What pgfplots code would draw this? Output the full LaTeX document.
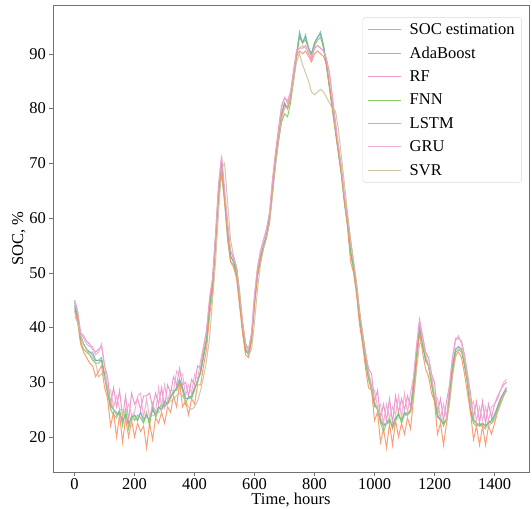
\documentclass[border=0pt]{standalone}
\usepackage{pgfplots}
\usepackage{pgfplotstable}
\pgfplotsset{compat=1.18}
\usepackage{fontspec}
\setmainfont{Liberation Serif}
\definecolor{csoc}{RGB}{102,194,165}
\definecolor{cada}{RGB}{141,160,203}
\definecolor{crf}{RGB}{231,138,195}
\definecolor{cfnn}{RGB}{120,200,80}
\definecolor{clstm}{RGB}{252,141,98}
\definecolor{cgru}{RGB}{240,165,210}
\definecolor{csvr}{RGB}{200,190,150}
\pgfplotstableread{
t soc ada rf fnn lstm gru svr
0 44 44.5 45 43.5 43 45 42
10 42 42 43 41.5 41 43 41
20 38 38.5 39 37.5 37 39 38.5
30 37 37 38.5 36 35.5 38 37
40 36 36 37.5 35.5 34.5 37 36
50 35.5 35.5 37 35 33.5 36.5 35
60 35 35.5 36 34 33 36.5 34.5
70 34 34 35.5 33.5 31 35 33.5
80 34 34 36 33.5 32 35.5 31
90 34.5 34 36.5 34 33 37 31.5
100 31 31.5 33 31 29 33 31
110 28 28 31 28.5 27 29 29
120 25.5 26 26 25 22 28.5 26.5
130 25 25 29 24 24.5 25.5 25
140 24 24.5 25.5 23.5 20 27.5 24
150 24.5 24 28.5 25 24 25 24
160 23 23 23.5 22 19 25 23.5
170 24 24 27.5 25 23.5 24.5 23.5
180 22.5 22.5 23 21.5 20 26 23
190 23.5 23.5 28 24 23 24 23
200 24 24 26 23 20 24.5 23.5
210 23 23 27 24 22.5 27.5 23.5
220 24.5 24.5 25 23.5 21 28 23.5
230 23 23 27.5 22.5 22 23.5 23.5
240 24 24 27.5 24.5 18 27 23.5
250 23 23 28 22 22.5 23.5 23.5
260 25 25 25.5 26 19.5 26 24
270 24 24 28 23.5 23.5 24.5 24
280 25.5 25.5 26 25 22.5 29 24.5
290 25 25 29 26 24.5 25.5 25
300 26.5 26.5 25.5 25.5 22.5 29.5 25.5
310 26 26 29.5 26.5 25.5 26.5 26
320 27.5 27.5 28 27 24.5 28.5 26.5
330 28 28 31 28.5 27.5 28.5 27
340 29 29 29.5 28.5 25.5 32 27.5
350 30.5 30.5 32.5 30 30 31 28
360 29 29 29.5 28.5 25.5 31.5 27.5
370 27 27 30 26 26.5 27.5 26.5
380 27 27 27.5 27.5 24 29.5 25.5
390 27.5 27.5 30.5 27 27 28 25
400 29 29 29.5 28.5 26 31.5 25.5
410 30 30 33 30.5 29.5 30.5 26.5
420 32 32 32.5 31.5 29.5 34 28.5
430 35 35 36.5 34.5 33 36.5 31
440 38 38 39.5 37.5 36 39.5 34
450 44 44 45 43.5 42 45.5 38
460 48 48 49 47.5 46.5 49 45
470 56 56 57 55.5 55 57 52
480 65 65 66 64 64 66 61
490 70 70 71 68 69 71.5 69
500 64 64 65 63 63 65 70
510 58 58 59 56 57 59 63
520 53 53 54 52 52 54 56
530 52 52 52.5 51.5 51 53 53
540 50 50 51 49.5 49 51 51
550 45 45 46 44.5 44 46 47
560 40 40 41 39.5 39 41 41
570 36 36 37 35.5 35 37 37
580 35 35 36 35.5 34.5 36 35
590 38 38 39 38 37.5 39 36
600 45 45 46 44.5 44 46 41
610 50 50 51 49.5 49.5 51 47
620 53 53 54 52.5 52.5 54 51.5
630 55 55 56 54.5 54.5 56 54.5
640 57 57 58 56.5 56.5 58 56.5
650 60 60 61 59.5 59.5 61 59
660 66 66 67 65 65 67 64
670 71 71 72 70 70.5 72 69.5
680 75 75 76.5 74 74.5 76 74
690 79 79 80.5 77.5 78.5 80 78
700 81 81 82 79 80.5 82 80
710 80 80 81 78.5 80 81.5 80.5
720 82 82 83 81 82 83 82
730 86 86 87 85 86 86.5 85
740 90 90 90.5 89.5 89.5 90.5 88.5
750 94 93.5 91 93 90.5 91 90
760 92 92 91 92 90 91.5 88
770 93.5 93 91.5 92.5 90.5 91 86.5
780 91 91 90 91 89.5 90.5 85
790 90 90 89 89.5 88.5 89.5 83
800 92 92 91 91.5 90 91 82.5
810 93 93 91.5 92.5 90.5 91.5 83
820 94 93.5 91 93 90 91 83.5
830 91.5 91.5 90.5 91 89.5 90.5 83
840 88 88 89 87.5 88 89 82
850 84 84 86.5 83.5 84 86 81
860 80 80 82 79.5 80 81.5 80
870 76 76 77.5 75.5 76 77 79.5
880 72 72 73 71.5 72 73 76
890 68 68 69 67.5 68 69 71
900 63 63 64 62.5 63 64 66
910 59 59 60 58.5 58.5 60 61
920 54 54 56 53.5 52 56 56
930 51 51 52 50.5 50 52 52
940 47 47 48 46.5 46 48 48
950 42 42 43 41.5 40.5 43 43
960 38 38 39 37.5 37 39 39
970 34 34 35.5 33.5 32.5 35 35
980 31 31 32.5 30.5 29 32 31.5
990 29 29 31.5 28.5 28.5 29.5 29
1000 26 26 26.5 25.5 23 28.5 26.5
1010 25 25 28.5 25.5 24.5 25.5 25
1020 23 23 23.5 22.5 19 26 23.5
1030 22 22 26 21 21.5 22.5 22.5
1040 22.5 22.5 23 22.5 18 26 22.5
1050 23 23 27 23.5 22.5 23.5 22.5
1060 22 22 22.5 21.5 18.5 25.5 22.5
1070 23.5 23.5 27.5 23 23 24 23
1080 24 24 24.5 24.5 20 27.5 23.5
1090 23 23 27 22.5 22.5 23.5 23.5
1100 24.5 24.5 25 24 20.5 28 24
1110 24 24 27.5 24.5 23.5 24.5 24
1120 25 25 25.5 24.5 21.5 28 24.5
1130 29 29 30.5 28.5 27 31 27
1140 35 35 36.5 34.5 33.5 36.5 32
1150 40 40 41.5 39.5 39 41 37
1160 37 37 38.5 36.5 35.5 38.5 37.5
1170 34 34 35.5 34.5 32.5 35.5 35
1180 33 33 34.5 33 31 34.5 33
1190 30 30 31.5 29.5 28 31.5 30.5
1200 27 27 30 26.5 26.5 27.5 27.5
1210 24 24 24.5 23.5 20.5 27 25
1220 23 23 27 23.5 22.5 23.5 23.5
1230 22.5 22.5 23 22 18.5 26 23
1240 23 23 26.5 23.5 22.5 23.5 23
1250 28 28 29.5 27.5 26.5 29.5 26
1260 33 33 34.5 32.5 31.5 34.5 31
1270 36 36 38 35.5 35 37.5 34.5
1280 36.5 36.5 38 36 35.5 38.5 36
1290 36 36 37.5 35.5 34.5 37 36
1300 33 33 35 33.5 31.5 34.5 34
1310 30 30 31.5 29.5 28 31.5 30.5
1320 25 25 28 24.5 24.5 25.5 26.5
1330 23 23 23.5 22.5 19.5 26.5 23.5
1340 22.5 22.5 26.5 22 22 23 22.5
1350 22 22 22.5 22.5 18.5 25.5 22
1360 22.5 22.5 26.5 22 22 23 22
1370 22 22 22.5 21.5 18.5 25.5 22
1380 22.5 22.5 26 23 22 23 22
1390 23 23 23.5 22.5 20.5 25.5 22.5
1400 24 24 26 23.5 22.5 26 23
1410 25.5 25.5 27 25 24.5 27.5 24.5
1420 27 27 28.5 26.5 26 28.5 26
1430 28 28 29.5 27.5 27.5 30 27.5
1440 29 29 30 28.5 28.5 30.5 28.5
}\datatable
\begin{document}
\begin{tikzpicture}[x=1pt,y=1pt]
\begin{axis}[
  at={(0,0)}, anchor=south west,
  scale only axis, width=476pt, height=467pt,
  xmin=-72, xmax=1515, ymin=13.6, ymax=98.9,
  xtick={0,200,...,1400}, ytick={20,30,...,90},
  xtick pos=lower, ytick pos=left, tick align=outside,
  major tick length=3.5pt,
  axis line style={black!55}, every tick/.style={black!55},
  /pgf/number format/assume math mode=true,
  /pgf/number format/set thousands separator={},
  tick label style={font=\fontsize{16.5}{19}\selectfont},
  xticklabel style={yshift=1pt},
  label style={font=\fontsize{16.5}{19}\selectfont},
  xlabel={Time, hours}, ylabel={SOC, \%},
  xlabel style={at={(axis description cs:0.5,0)}, anchor=base, yshift=-32.5pt},
  ylabel style={yshift=-3pt},
  legend style={at={(0.985,0.974)}, anchor=north east, draw=black!15, rounded corners=3pt,
    font=\fontsize{16.5}{19}\selectfont, row sep=7pt, column sep=6pt, inner xsep=5pt, inner ysep=4pt},
  legend cell align=left,
  legend image code/.code={\draw[#1] (0pt,0pt) -- (33pt,0pt);},
  every axis plot/.append style={line width=1pt, opacity=0.85},
]
\addplot[csoc] table[x=t,y=soc] {\datatable};
\addlegendentry{SOC estimation}
\addplot[cada] table[x=t,y=ada] {\datatable};
\addlegendentry{AdaBoost}
\addplot[crf] table[x=t,y=rf] {\datatable};
\addlegendentry{RF}
\addplot[cfnn] table[x=t,y=fnn] {\datatable};
\addlegendentry{FNN}
\addplot[clstm] table[x=t,y=lstm] {\datatable};
\addlegendentry{LSTM}
\addplot[cgru] table[x=t,y=gru] {\datatable};
\addlegendentry{GRU}
\addplot[csvr] table[x=t,y=svr] {\datatable};
\addlegendentry{SVR}
\end{axis}
\pgfresetboundingbox
\useasboundingbox (-53,-36) rectangle (479,472);
\end{tikzpicture}
\end{document}
